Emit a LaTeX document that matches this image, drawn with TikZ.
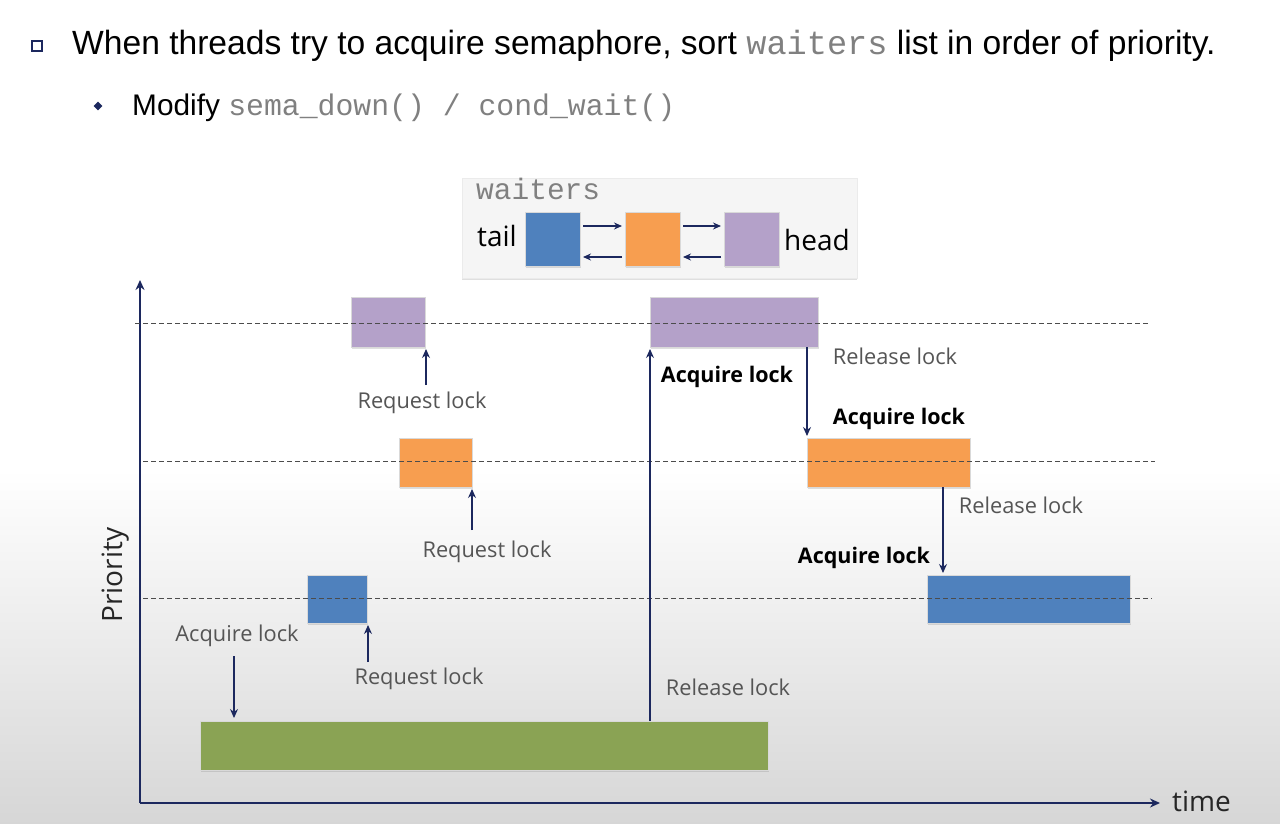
\documentclass[tikz,border=0pt]{standalone}
\usepackage{fontspec}
\setmainfont{Liberation Sans}
\newfontfamily\lbl{Open Sans}
\newfontfamily\mono{Liberation Mono}
\usetikzlibrary{arrows.meta,shadows,shapes.geometric}
\definecolor{navy}{RGB}{28,40,94}
\definecolor{purp}{RGB}{180,161,201}
\definecolor{oran}{RGB}{247,158,80}
\definecolor{blu}{RGB}{79,129,189}
\definecolor{grn}{RGB}{138,163,84}
\definecolor{codegray}{RGB}{128,128,128}
\definecolor{lblgray}{RGB}{85,85,85}
\tikzset{
  bar/.style={draw=white!85!black, line width=0.8pt, inner sep=0pt, outer sep=0pt, anchor=north west,
    drop shadow={shadow xshift=1pt, shadow yshift=-2pt, opacity=0.25}},
  arr/.style={draw=navy, line width=1.1pt, -{Stealth[length=9pt,width=8pt]}},
  axis/.style={draw=navy, line width=2.2pt, -{Stealth[length=10pt,width=9pt]}},
  guide/.style={draw=black!70, dash pattern=on 5pt off 3pt, line width=0.9pt},
  lab/.style={font=\lbl\fontsize{21.8}{26}\selectfont, text=lblgray, inner sep=0pt},
  blab/.style={font=\lbl\bfseries\fontsize{21.5}{26}\selectfont, text=black, inner sep=0pt},
}
\begin{document}
\begin{tikzpicture}[x=1pt,y=-1pt]
\useasboundingbox (0,0) rectangle (1280,824);
\fill[white] (0,0) rectangle (1280,470);
\shade[top color=white, bottom color=black!16] (0,469) rectangle (1280,824);

% header text
\node[draw=navy, line width=1.4pt, minimum size=10pt, inner sep=0pt] (b1) at (37,46) {};
\node[anchor=base west, inner sep=0pt, font=\fontsize{33.6}{40}\selectfont] (t1) at (72,55)
  {When threads try to acquire semaphore, sort {\mono\color{codegray}waiters} list in order of priority.};
\node[diamond, fill=navy, minimum size=9pt, inner sep=0pt] (b2) at (98,106) {};
\node[anchor=base west, inner sep=0pt, font=\fontsize{29.8}{36}\selectfont] (t2) at (132,116)
  {Modify {\mono\color{codegray}sema\_down() / cond\_wait()}};

% waiters box
\node[fill=black!4, draw=black!8, minimum width=395pt, minimum height=100pt, inner sep=0pt, anchor=north west,
  drop shadow={shadow xshift=0pt, shadow yshift=-2pt, opacity=0.25}] (wb) at (462,178) {};
\node[anchor=base west, inner sep=0pt, font=\mono\fontsize{29.5}{34}\selectfont, text=codegray] (wt) at (476,199) {waiters};
\node[anchor=base west, inner sep=0pt, font=\lbl\fontsize{28}{32}\selectfont] (tail) at (477,246) {tail};
\node[anchor=base west, inner sep=0pt, font=\lbl\fontsize{28}{32}\selectfont] (head) at (784,250) {head};
\node[bar, fill=blu, minimum width=55pt, minimum height=54pt] (wq1) at (525,212) {};
\node[bar, fill=oran, minimum width=55pt, minimum height=54pt] (wq2) at (625,212) {};
\node[bar, fill=purp, minimum width=55pt, minimum height=54pt] (wq3) at (724,212) {};
\draw[arr, -{Stealth[length=8pt,width=7pt]}, line width=1.8pt] ([shift={(3,14)}]wq1.north east) -- ([shift={(-3,14)}]wq2.north west);
\draw[arr, -{Stealth[length=8pt,width=7pt]}, line width=1.8pt] ([shift={(-3,-9)}]wq2.south west) -- ([shift={(3,-9)}]wq1.south east);
\draw[arr, -{Stealth[length=8pt,width=7pt]}, line width=1.8pt] ([shift={(3,14)}]wq2.north east) -- ([shift={(-3,14)}]wq3.north west);
\draw[arr, -{Stealth[length=8pt,width=7pt]}, line width=1.8pt] ([shift={(-3,-9)}]wq3.south west) -- ([shift={(3,-9)}]wq2.south east);

% axes
\coordinate (O) at (140,803);
\coordinate (ytop) at (140,280);
\coordinate (xend) at (1160,803);
\draw[axis] (O) -- (ytop);
\draw[axis] (O) -- (xend);
\node[anchor=west, inner sep=0pt, font=\lbl\fontsize{28}{32}\selectfont, text=black!85] (time) at (1172,801) {time};
\node[rotate=90, inner sep=0pt, font=\lbl\fontsize{28}{32}\selectfont, text=black!85] (prio) at (116,575) {Priority};

% guides
\coordinate (g1a) at (135,323); \coordinate (g1b) at (1148,323);
\coordinate (g2a) at (143,461); \coordinate (g2b) at (1155,461);
\coordinate (g3a) at (143,598); \coordinate (g3b) at (1152,598);

% bars
\node[bar, fill=purp, minimum width=74pt, minimum height=50pt] (P1) at (351,297) {};
\node[bar, fill=purp, minimum width=168pt, minimum height=50pt] (P2) at (650,297) {};
\node[bar, fill=oran, minimum width=73pt, minimum height=49pt] (O1) at (399,438) {};
\node[bar, fill=oran, minimum width=163pt, minimum height=49pt] (O2) at (807,438) {};
\node[bar, fill=blu, minimum width=60pt, minimum height=48pt] (B1) at (307,575) {};
\node[bar, fill=blu, minimum width=203pt, minimum height=48pt] (B2) at (927,575) {};
\node[bar, fill=grn, minimum width=568pt, minimum height=49pt] (G) at (200,721) {};

\draw[guide] (g1a) -- (g1b);
\draw[guide] (g2a) -- (g2b);
\draw[guide] (g3a) -- (g3b);

% labels
\node[lab] (rl1) at (422,403) {Request lock};
\node[lab] (rl2) at (487,552) {Request lock};
\node[lab] (rl3) at (419,679) {Request lock};
\node[lab] (ag) at (237,636) {Acquire lock};
\node[lab] (relg) at (728,687) {Release lock};
\node[blab] (ap) at (727,377) {Acquire lock};
\node[lab] (relp) at (895,356) {Release lock};
\node[blab] (ao) at (899,419) {Acquire lock};
\node[lab] (relo) at (1021,505) {Release lock};
\node[blab] (ab) at (864,558) {Acquire lock};

% connectors
\coordinate (r1s) at (426,385);
\coordinate (r2s) at (472,530);
\coordinate (r3s) at (368,662);
\coordinate (ags) at (234,656);
\draw[arr, shorten >=2pt] (r1s) -- (r1s |- P1.south);
\draw[arr, shorten >=2pt] (r2s) -- (r2s |- O1.south);
\draw[arr, shorten >=2pt] (r3s) -- (r3s |- B1.south);
\draw[arr, shorten >=3pt] (ags) -- (ags |- G.north);
\draw[arr, shorten >=2pt] (P2.south west |- G.north) -- (P2.south west);
\draw[arr, shorten >=2pt] (P2.south -| O2.north west) -- (O2.north west);
\coordinate (ob) at (943,487);
\draw[arr, shorten >=2pt] (ob) -- (ob |- B2.north);
\end{tikzpicture}
\end{document}
